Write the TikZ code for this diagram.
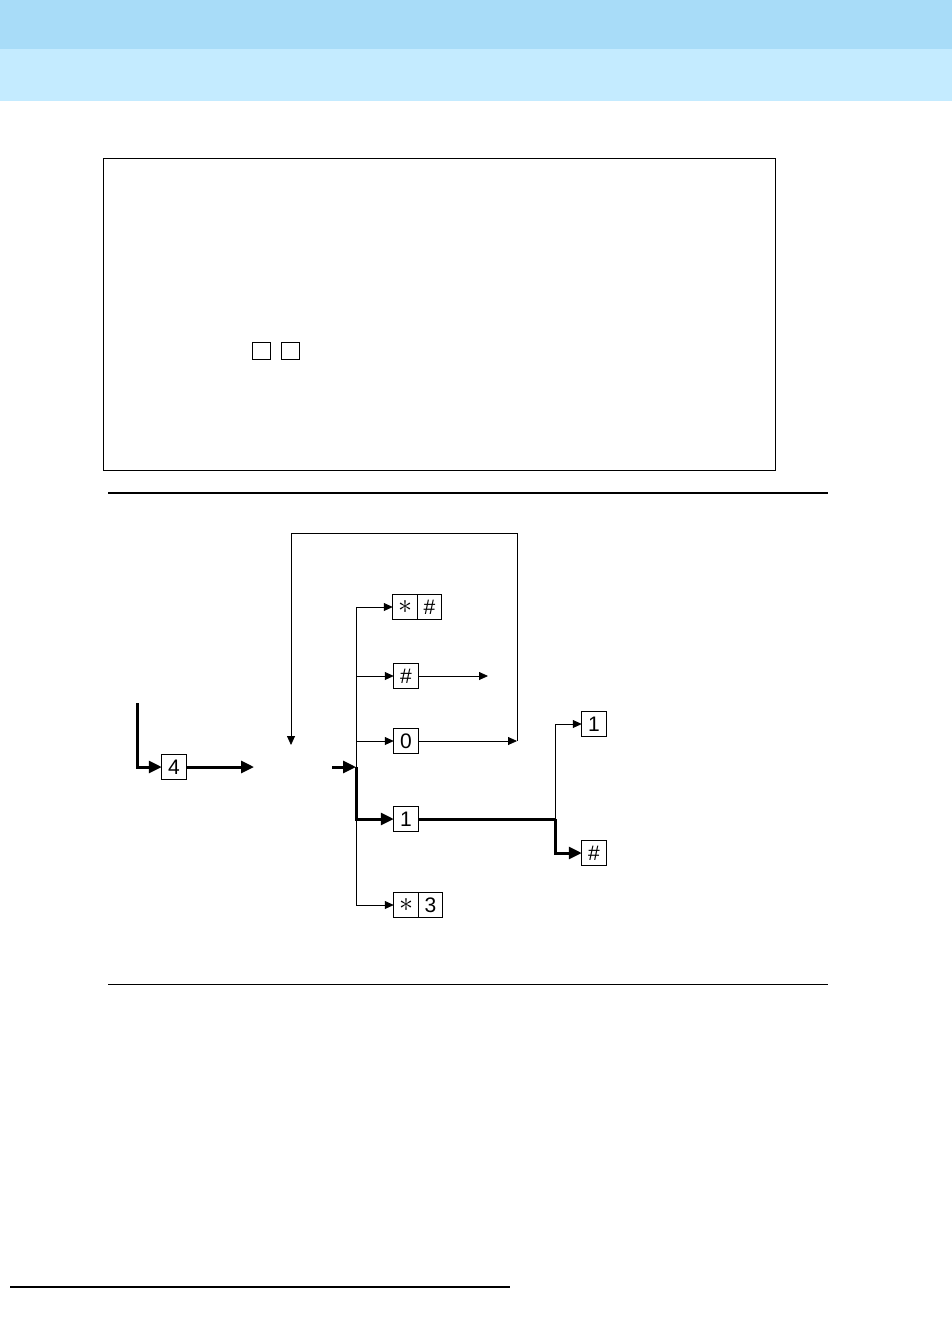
\documentclass[tikz,border=0pt]{standalone}
\usepackage{fontspec}
\setmainfont{Liberation Sans}
\usepackage{xcolor}
\usepackage{graphicx}
\usetikzlibrary{arrows.meta,positioning}
\definecolor{bandtop}{HTML}{A8DCF8}
\definecolor{bandlow}{HTML}{C4EBFF}
\newcommand{\keystar}{\scalebox{1.35}{$\ast$}}
\begin{document}
\begin{tikzpicture}[x=1pt,y=-1pt,
  k/.style={draw,line width=.8pt,minimum width=24.5pt,minimum height=24.5pt,
    inner sep=0pt,outer sep=0pt,font=\fontsize{21}{24}\selectfont},
  sq/.style={draw,line width=.9pt,minimum width=18pt,minimum height=17pt,inner sep=0pt},
  f/.style={-{Triangle[length=9pt,width=8pt]},line width=.8pt},
  fb/.style={-{Triangle[length=13pt,width=12pt]},line width=3pt},
  bar/.style={line width=3pt}]
\useasboundingbox (0,0) rectangle (952,1326);
% page bands and rules
\fill[bandtop] (0,0) rectangle (952,49);
\fill[bandlow] (0,49) rectangle (952,101);
\draw[line width=1pt] (103,158) rectangle (775,470);
\node[sq] (sqa) at (261,350.5) {};
\node[sq] (sqb) at (290,350.5) {};
\draw[line width=2pt] (108,493) -- (828,493);
\draw[line width=.9pt] (108,984) -- (828,984);
\draw[line width=1.5pt] (10,1287) -- (510,1287);
% keys
\node[k] (four) at (174,767) {4};
\node[k] (sta) at (405,607) {\keystar};
\node[k,right=0pt of sta] (stb) {\#};
\node[k] (hash) at (406,676) {\#};
\node[k] (zero) at (406,741) {0};
\node[k] (one) at (406,819) {1};
\node[k] (s3a) at (406,905) {\keystar};
\node[k,right=0pt of s3a] (s3b) {3};
\node[k] (oneb) at (594,724) {1};
\node[k] (hashb) at (594,853) {\#};
% junctions
\coordinate (entry) at (137,703);
\coordinate (step) at (254,767);
\coordinate (resume) at (332,767);
\coordinate (trunk) at (356,767);
\coordinate (trunktop) at (356,607);
\coordinate (trunkbot) at (356,905);
\coordinate (hashend) at (488,676);
\coordinate (loopr) at (517,741);
\coordinate (looptop) at (517,533);
\coordinate (loopl) at (291,745);
\coordinate (fork) at (555,819);
% flows
\draw[fb] (entry) |- (four);
\draw[fb] (four) -- (step);
\draw[fb] (resume) -- (trunk);
\draw[line width=.8pt] (trunktop) -- (trunkbot);
\draw[f] (trunktop) -- (sta);
\draw[f] (trunk |- hash) -- (hash);
\draw[f] (trunk |- zero) -- (zero);
\draw[fb] (trunk) |- (one);
\draw[f] (trunkbot) -- (s3a);
\draw[f] (hash) -- (hashend);
\draw[f] (zero) -- (loopr);
\draw[f] (loopr) -- (looptop) -| (loopl);
\draw[bar] (one) -- (fork);
\draw[f] (fork) |- (oneb);
\draw[fb] (fork) |- (hashb);
\end{tikzpicture}
\end{document}
